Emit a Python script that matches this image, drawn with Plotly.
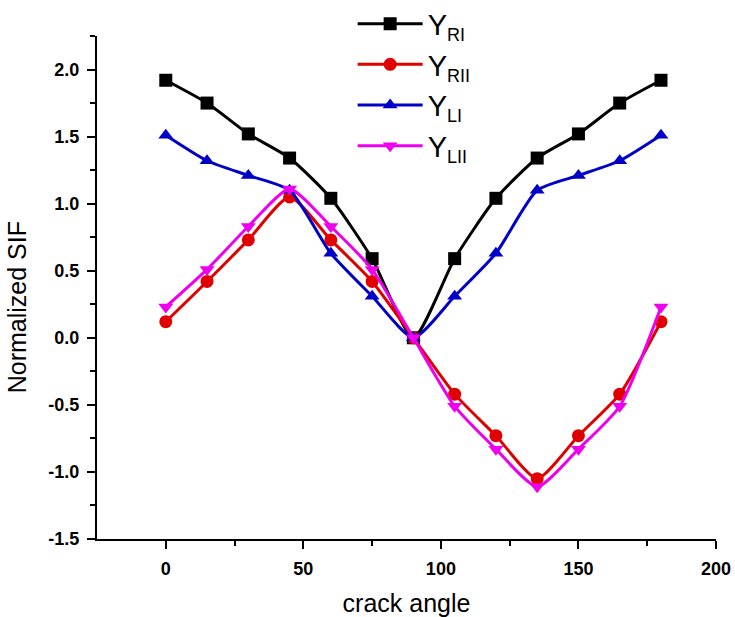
import plotly.graph_objects as go

angles = [0, 15, 30, 45, 60, 75, 90, 105, 120, 135, 150, 165, 180]
y_ri = [1.92, 1.75, 1.52, 1.34, 1.04, 0.59, 0.0, 0.59, 1.04, 1.34, 1.52, 1.75, 1.92]
y_rii = [0.12, 0.42, 0.73, 1.05, 0.73, 0.42, 0.0, -0.42, -0.73, -1.05, -0.73, -0.42, 0.12]
y_li = [1.51, 1.32, 1.21, 1.10, 0.63, 0.31, 0.0, 0.31, 0.63, 1.10, 1.21, 1.32, 1.51]
y_lii = [0.23, 0.51, 0.83, 1.11, 0.83, 0.51, 0.0, -0.51, -0.83, -1.11, -0.83, -0.51, 0.23]

sub = '<sub><span style="font-size:18px">{}</span></sub>'
series = [
    ("Y" + sub.format("RI"), y_ri, "#000000", "square"),
    ("Y" + sub.format("RII"), y_rii, "#e00000", "circle"),
    ("Y" + sub.format("LI"), y_li, "#0000c8", "triangle-up"),
    ("Y" + sub.format("LII"), y_lii, "#ee00ee", "triangle-down"),
]

fig = go.Figure()
for name, ys, color, sym in series:
    fig.add_trace(go.Scatter(
        x=angles, y=ys, name=name, mode="lines+markers",
        line=dict(color=color, width=3, shape="spline", smoothing=0.6),
        marker=dict(symbol=sym, size=13, color=color),
    ))

axis_common = dict(
    showline=True, linecolor="black", linewidth=2, mirror=False,
    ticks="outside", ticklen=8, tickwidth=2, tickcolor="black",
    showgrid=False, zeroline=False, ticklabelstandoff=4, automargin=False,
    tickfont=dict(family="Liberation Sans, Arial", size=18, color="black", weight=700),
    title_font=dict(family="Liberation Sans, Arial", size=25, color="black"),
)

fig.update_xaxes(
    range=[-25, 200], tickvals=[0, 50, 100, 150, 200],
    minor=dict(tickvals=[25, 75, 125, 175], ticks="outside", ticklen=5, tickwidth=2, tickcolor="black"),
    title_text="crack angle", title_standoff=20, **axis_common,
)
fig.update_yaxes(
    range=[-1.5, 2.25], tickvals=[-1.5, -1.0, -0.5, 0.0, 0.5, 1.0, 1.5, 2.0],
    ticktext=["-1.5", "-1.0", "-0.5", "0.0", "0.5", "1.0", "1.5", "2.0"],
    minor=dict(tickvals=[-1.25, -0.75, -0.25, 0.25, 0.75, 1.25, 1.75, 2.25], ticks="outside", ticklen=5, tickwidth=2, tickcolor="black"),
    **axis_common,
)

fig.add_annotation(
    text="Normalized SIF", xref="paper", yref="paper",
    x=-0.129, y=0.461, xanchor="center", yanchor="middle",
    textangle=-90, showarrow=False,
    font=dict(family="Liberation Sans, Arial", size=25, color="black"),
)

fig.update_layout(
    width=735, height=617,
    margin=dict(l=97, r=19, t=36, b=78, autoexpand=False),
    plot_bgcolor="white", paper_bgcolor="white",
    legend=dict(
        x=0.413, y=1.075, xanchor="left", yanchor="top",
        font=dict(family="Liberation Sans, Arial", size=29, color="black"),
        bgcolor="rgba(0,0,0,0)", itemwidth=65, tracegroupgap=0,
    ),
)

fig.write_html("out.html")
